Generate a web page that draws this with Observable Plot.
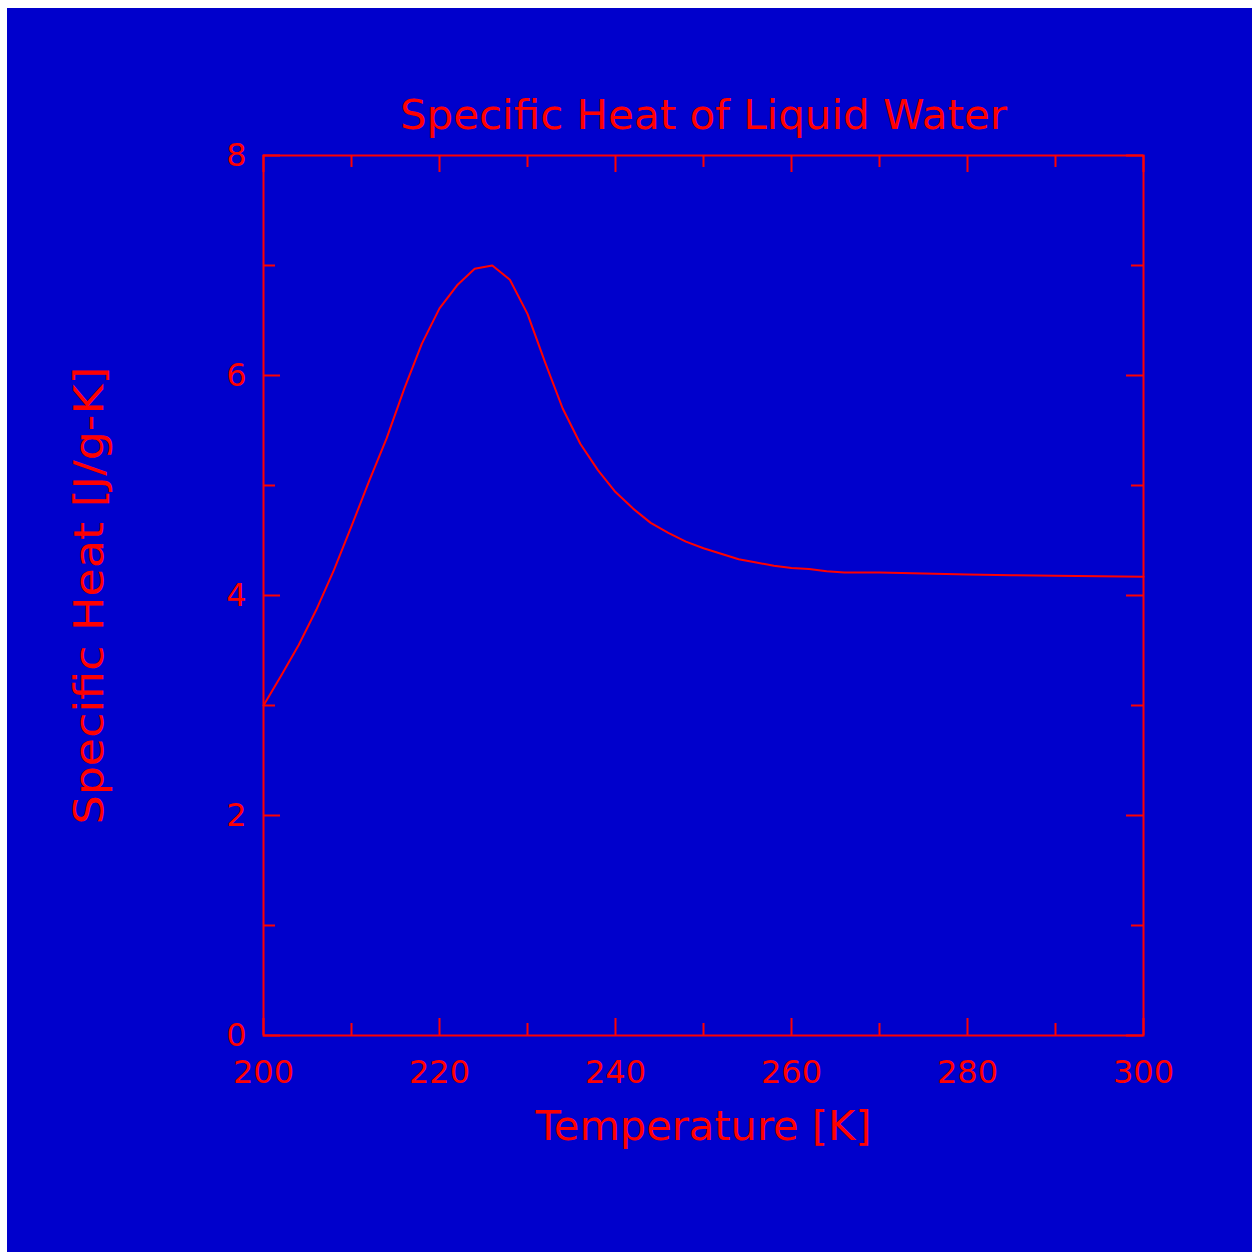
<!DOCTYPE html>
<html><head><meta charset="utf-8">
<script src="https://cdn.jsdelivr.net/npm/d3@7"></script>
<script src="https://cdn.jsdelivr.net/npm/@observablehq/plot@0.6"></script>
<style>
html,body{margin:0;padding:0;background:#ffffff;overflow:hidden;}
#wrap{position:absolute;left:7px;top:8px;width:1245px;height:1244px;overflow:hidden;background:#0000cc;}
</style></head><body><div id="wrap"></div>
<script>
const temperature = [200,202,204,206,208,210,212,214,216,218,220,222,224,226,228,230,232,234,236,238,240,242,244,246,248,250,252,254,256,258,260,262,264,266,268,270,275,280,285,290,295,300];
const specificHeat = [3.00,3.27,3.55,3.87,4.23,4.63,5.04,5.43,5.88,6.29,6.61,6.82,6.97,7.00,6.87,6.56,6.12,5.70,5.38,5.14,4.94,4.79,4.66,4.57,4.49,4.43,4.38,4.33,4.30,4.27,4.25,4.24,4.22,4.21,4.21,4.21,4.20,4.19,4.185,4.18,4.175,4.17];
const xMajorTicks = [200,220,240,260,280,300];
const xMinorTicks = [210,230,250,270,290];
const yMajorTicks = [0,2,4,6,8];
const yMinorTicks = [1,3,5,7];
const titleText = "Specific Heat of Liquid Water";
const xLabel = "Temperature [K]";
const yLabel = "Specific Heat [J/g-K]";

const W = 1245, H = 1244, mL = 256, mR = 109, mT = 147, mB = 217;
const innerW = W - mL - mR;
const innerH = H - mT - mB;
const RED = "#ff0000";
const MAJ = 17, MIN = 12;
const data = temperature.map((t, i) => ({t, c: specificHeat[i]}));
const tickStyle = {stroke: RED, strokeWidth: 2};

const chart = Plot.plot({
  width: W, height: H,
  marginLeft: mL, marginRight: mR, marginTop: mT, marginBottom: mB,
  style: {background: "#0000cc", fontFamily: "DejaVu Sans", color: RED},
  x: {domain: [200, 300], label: null, axis: null},
  y: {domain: [0, 8], label: null, axis: null},
  marks: [
    Plot.frame({stroke: RED, strokeWidth: 2}),
    Plot.tickX(xMajorTicks, {x: d => d, ...tickStyle, insetTop: innerH - MAJ}),
    Plot.tickX(xMajorTicks, {x: d => d, ...tickStyle, insetBottom: innerH - MAJ}),
    Plot.tickX(xMinorTicks, {x: d => d, ...tickStyle, insetTop: innerH - MIN}),
    Plot.tickX(xMinorTicks, {x: d => d, ...tickStyle, insetBottom: innerH - MIN}),
    Plot.tickY(yMajorTicks, {y: d => d, ...tickStyle, insetRight: innerW - MAJ}),
    Plot.tickY(yMajorTicks, {y: d => d, ...tickStyle, insetLeft: innerW - MAJ}),
    Plot.tickY(yMinorTicks, {y: d => d, ...tickStyle, insetRight: innerW - MIN}),
    Plot.tickY(yMinorTicks, {y: d => d, ...tickStyle, insetLeft: innerW - MIN}),
    Plot.axisX(xMajorTicks, {tickSize: 0, tickPadding: 25, fill: RED, fontSize: 32, label: null, tickFormat: d => String(d)}),
    Plot.axisY(yMajorTicks, {tickSize: 0, tickPadding: 17, fill: RED, fontSize: 32, label: null, tickFormat: d => String(d)}),
    Plot.line(data, {x: "t", y: "c", stroke: RED, strokeWidth: 2}),
    Plot.text([titleText], {text: d => d, frameAnchor: "top", dy: -27, lineAnchor: "bottom", textAnchor: "middle", fill: RED, fontSize: 40}),
    Plot.text([xLabel], {text: d => d, frameAnchor: "bottom", dy: 104, lineAnchor: "bottom", textAnchor: "middle", fill: RED, fontSize: 40}),
    Plot.text([yLabel], {text: d => d, frameAnchor: "left", dx: -161, rotate: -90, lineAnchor: "bottom", textAnchor: "middle", fill: RED, fontSize: 40})
  ]
});
const lengths = {[titleText]: 607, [xLabel]: 336, [yLabel]: 458};
chart.querySelectorAll("text").forEach(t => {
  const s = t.textContent;
  if (lengths[s]) { t.setAttribute("textLength", lengths[s]); t.setAttribute("lengthAdjust", "spacingAndGlyphs"); }
});
document.getElementById("wrap").appendChild(chart);
</script></body></html>
